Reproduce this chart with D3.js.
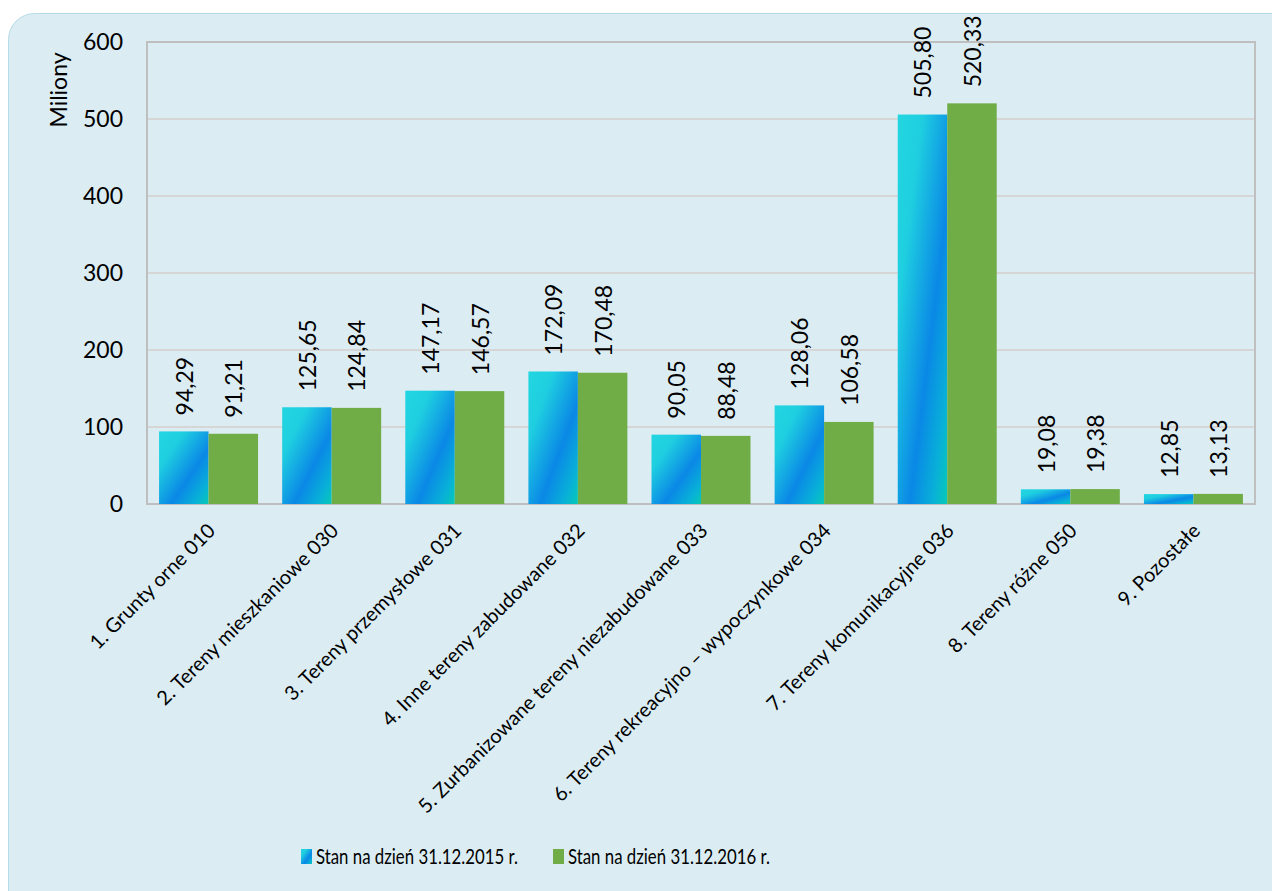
<!DOCTYPE html>
<html>
<head>
<meta charset="utf-8">
<script src="https://cdn.jsdelivr.net/npm/d3@7.9.0/dist/d3.min.js"></script>
<style>
    body { margin: 0; background: #ffffff; }
    svg { display: block; }
    text { font-family: Lato, "Open Sans", sans-serif; fill: #000; }
</style>
</head>
<body>
<svg id="chart"></svg>
<script>
const categories = [
    '1. Grunty orne 010',
    '2. Tereny mieszkaniowe 030',
    '3. Tereny przemysłowe 031',
    '4. Inne tereny zabudowane 032',
    '5. Zurbanizowane tereny niezabudowane 033',
    '6. Tereny rekreacyjno – wypoczynkowe 034',
    '7. Tereny komunikacyjne 036',
    '8. Tereny różne 050',
    '9. Pozostałe',
];
const values2015 = [94.29, 125.65, 147.17, 172.09, 90.05, 128.06, 505.80, 19.08, 12.85];
const values2016 = [91.21, 124.84, 146.57, 170.48, 88.48, 106.58, 520.33, 19.38, 13.13];
const seriesNames = ['Stan na dzień 31.12.2015 r.', 'Stan na dzień 31.12.2016 r.'];
const yTicks = [0, 100, 200, 300, 400, 500, 600];

const width = 1272;
const height = 891;
const plot = { left: 147, right: 1255, top: 42, bottom: 504 };

const svg = d3.select('#chart').attr('width', width).attr('height', height);

// background panel
svg.append('rect')
    .attr('x', 8.5)
    .attr('y', 13.5)
    .attr('width', 1290)
    .attr('height', 920)
    .attr('rx', 26)
    .attr('fill', '#dbedf3')
    .attr('stroke', '#b6dbe8')
    .attr('stroke-width', 1);

const defs = svg.append('defs');
const grad = defs.append('linearGradient')
    .attr('id', 'blueGrad')
    .attr('x1', '0').attr('y1', '0')
    .attr('x2', '1').attr('y2', '1');
grad.append('stop').attr('offset', '0%').attr('stop-color', '#22d6e0');
grad.append('stop').attr('offset', '25%').attr('stop-color', '#1fcfe0');
grad.append('stop').attr('offset', '62%').attr('stop-color', '#0a88e6');
grad.append('stop').attr('offset', '85%').attr('stop-color', '#08b0d8');
grad.append('stop').attr('offset', '100%').attr('stop-color', '#07c9b6');

const x = d3.scaleBand()
    .domain(categories)
    .range([plot.left, plot.right])
    .paddingInner(0.196)
    .paddingOuter(0.098);

const xInner = d3.scaleBand()
    .domain([0, 1])
    .range([0, x.bandwidth()]);

const y = d3.scaleLinear()
    .domain([0, 600])
    .range([plot.bottom, plot.top]);

// gridlines
svg.append('g')
    .selectAll('line')
    .data(yTicks)
    .join('line')
    .attr('x1', plot.left)
    .attr('x2', plot.right)
    .attr('y1', (d) => y(d))
    .attr('y2', (d) => y(d))
    .attr('stroke', '#d6d6d6')
    .attr('stroke-width', 2);

// plot border
svg.append('rect')
    .attr('x', plot.left)
    .attr('y', plot.top)
    .attr('width', plot.right - plot.left)
    .attr('height', plot.bottom - plot.top)
    .attr('fill', 'none')
    .attr('stroke', '#bfbfbf')
    .attr('stroke-width', 2);

// y axis labels
const yAxis = d3.axisLeft(y).tickValues(yTicks).tickSize(0).tickPadding(24);
const yG = svg.append('g')
    .attr('transform', `translate(${plot.left}, 0)`)
    .call(yAxis);
yG.select('.domain').remove();
yG.attr('font-family', null).attr('font-size', null);
yG.selectAll('text')
    .style('font-size', '23px');

svg.append('text')
    .attr('transform', `translate(67, 90) rotate(-90)`)
    .attr('text-anchor', 'middle')
    .style('font-size', '23px')
    .text('Miliony');

// bars
const groups = svg.append('g')
    .selectAll('g')
    .data(categories.map((c, i) => ({ c, vals: [values2015[i], values2016[i]] })))
    .join('g')
    .attr('transform', (d) => `translate(${x(d.c)}, 0)`);

groups.selectAll('rect')
    .data((d) => d.vals)
    .join('rect')
    .attr('x', (d, i) => xInner(i))
    .attr('y', (d) => y(d))
    .attr('width', xInner.bandwidth())
    .attr('height', (d) => y(0) - y(d))
    .attr('fill', (d, i) => i === 0 ? 'url(#blueGrad)' : '#70ad47');

const fmt = (v) => v.toFixed(2).replace('.', ',');

groups.selectAll('text')
    .data((d) => d.vals)
    .join('text')
    .attr('transform', (d, i) => `translate(${xInner(i) + xInner.bandwidth() / 2 + 9}, ${y(d) - 16}) rotate(-90)`)
    .style('font-size', '23px')
    .text((d) => fmt(d));

// x labels
svg.append('g')
    .selectAll('text')
    .data(categories)
    .join('text')
    .attr('transform', (d) => `translate(${x(d) + x.bandwidth() / 2 + 8}, 532) rotate(-45)`)
    .attr('text-anchor', 'end')
    .style('font-size', '20px')
    .text((d) => d);

// legend
const legend = svg.append('g').attr('transform', 'translate(301, 849)');
const legendX = [0, 252];
legend.selectAll('rect')
    .data(seriesNames)
    .join('rect')
    .attr('x', (d, i) => legendX[i])
    .attr('y', 0)
    .attr('width', 11)
    .attr('height', 15)
    .attr('fill', (d, i) => i === 0 ? 'url(#blueGrad)' : '#70ad47');
legend.selectAll('text')
    .data(seriesNames)
    .join('text')
    .attr('x', (d, i) => legendX[i] + 15)
    .attr('y', 15)
    .attr('textLength', 202)
    .attr('lengthAdjust', 'spacingAndGlyphs')
    .style('font-size', '22px')
    .text((d) => d);
</script>
</body>
</html>
